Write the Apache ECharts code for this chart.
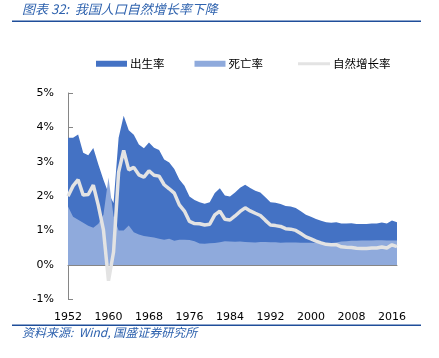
<!DOCTYPE html>
<html><head><meta charset="utf-8">
<script src="https://cdn.jsdelivr.net/npm/echarts@6/dist/echarts.min.js"></script>
<style>html,body{margin:0;padding:0;background:#fff}#c{width:439px;height:358px}</style>
</head><body><div id="c"></div>
<script>
var years = [];
for (var y = 1952; y <= 2017; y++) years.push(String(y));
// ‰ values (converted to % below)
var birthRate = [37.00,37.00,37.97,32.60,31.90,34.03,29.22,24.78,20.86,18.02,
  37.01,43.37,39.14,37.88,35.05,33.96,35.59,34.11,33.43,30.65,
  29.77,27.93,24.82,23.01,19.91,18.93,18.25,17.82,18.21,20.91,
  22.28,20.19,19.90,21.04,22.43,23.33,22.37,21.58,21.06,19.68,
  18.24,18.09,17.70,17.12,16.98,16.57,15.64,14.64,14.03,13.38,
  12.86,12.41,12.29,12.40,12.09,12.10,12.14,11.95,11.90,11.93,
  12.10,12.08,12.37,12.07,12.95,12.43];
var deathRate = [17.00,14.00,13.18,12.28,11.40,10.80,11.98,14.59,25.43,14.24,
  10.02,10.04,11.50,9.50,8.83,8.43,8.21,8.03,7.60,7.32,
  7.61,7.04,7.34,7.32,7.25,6.87,6.25,6.21,6.34,6.36,
  6.60,6.90,6.82,6.78,6.86,6.72,6.64,6.54,6.67,6.70,
  6.64,6.64,6.49,6.57,6.56,6.51,6.50,6.46,6.45,6.43,
  6.41,6.40,6.42,6.51,6.81,6.93,7.06,7.08,7.11,7.14,
  7.15,7.16,7.16,7.11,7.09,7.11];
var growthRate = [20.00,23.00,24.79,20.32,20.50,23.23,17.24,10.19,-4.57,3.78,
  26.99,33.33,27.64,28.38,26.22,25.53,27.38,26.08,25.83,23.33,
  22.16,20.89,17.48,15.69,12.66,12.06,12.00,11.61,11.87,14.55,
  15.68,13.29,13.08,14.26,15.57,16.61,15.73,15.04,14.39,12.98,
  11.60,11.45,11.21,10.55,10.42,10.06,9.14,8.18,7.58,6.95,
  6.45,6.01,5.87,5.89,5.28,5.17,5.08,4.87,4.79,4.79,
  4.95,4.92,5.21,4.96,5.86,5.32];
var seriesNames = ['出生率','死亡率','自然增长率'];
var titleText = '图表 32:  我国人口自然增长率下降';
var sourceText = '资料来源:  Wind, 国盛证券研究所';

function pct(a){ return a.map(function(v){ return +(v/10).toFixed(3); }); }

var chart = echarts.init(document.getElementById('c'), null, {renderer:'canvas'});
var labelFont = {fontFamily:'DejaVu Sans', fontSize:11, color:'#000'};
var legendText = {fontFamily:'Noto Sans CJK SC', fontSize:11.5, color:'#000', padding:[0,0,0,-2]};
chart.setOption({
  animation:false,
  textStyle:{fontFamily:'DejaVu Sans'},
  grid:{left:68, right:42, top:93, bottom:58.6},
  legend:[{
    top:53, left:91, itemGap:30, itemWidth:31, itemHeight:6,
    textStyle:legendText,
    data:[
      {name:seriesNames[0], icon:'rect'},
      {name:seriesNames[1], icon:'rect'}
    ]
  },{
    top:53, left:293, itemWidth:32, itemHeight:3,
    textStyle:legendText,
    data:[{name:seriesNames[2], icon:'rect', itemStyle:{color:'#E3E3E3'}}]
  }],
  xAxis:{
    type:'category', data:years, boundaryGap:false,
    axisLine:{onZero:true, lineStyle:{color:'#868686', width:1}},
    axisTick:{show:true, inside:true, length:5, interval:7, lineStyle:{color:'#868686'}},
    axisLabel:Object.assign({interval:7, margin:12}, labelFont),
    splitLine:{show:false}
  },
  yAxis:{
    type:'value', min:-1, max:5, interval:1,
    axisLine:{show:true, lineStyle:{color:'#868686'}},
    axisTick:{show:true, inside:true, length:5, lineStyle:{color:'#868686'}},
    axisLabel:Object.assign({margin:14, formatter:'{value}%'}, labelFont),
    splitLine:{show:false}
  },
  series:[
    {name:seriesNames[0], type:'line', data:pct(birthRate), showSymbol:false, symbol:'none',
     lineStyle:{width:0}, itemStyle:{color:'#4472C4'}, areaStyle:{color:'#4472C4', opacity:1, origin:0}},
    {name:seriesNames[1], type:'line', data:pct(deathRate), showSymbol:false, symbol:'none',
     lineStyle:{width:0}, itemStyle:{color:'#8FAADC'}, areaStyle:{color:'#8FAADC', opacity:1, origin:0}},
    {name:seriesNames[2], type:'line', data:pct(growthRate), showSymbol:false, symbol:'none',
     lineStyle:{width:3.5, color:'#E3E3E3'}, itemStyle:{color:'#E3E3E3'}}
  ],
  graphic:[
    {type:'text', left:22, top:3, style:{text:titleText, fill:'#2E62AE', font:'italic normal 13px "Noto Sans CJK SC"'}},
    {type:'rect', shape:{x:12, y:20.5, width:409, height:1.5}, style:{fill:'#1F4E9A'}},
    {type:'rect', shape:{x:12, y:324.5, width:409, height:1.5}, style:{fill:'#1F4E9A'}},
    {type:'text', left:22, top:326.5, style:{text:sourceText, fill:'#2E62AE', font:'italic normal 12px "Noto Sans CJK SC"'}}
  ]
});
</script></body></html>
